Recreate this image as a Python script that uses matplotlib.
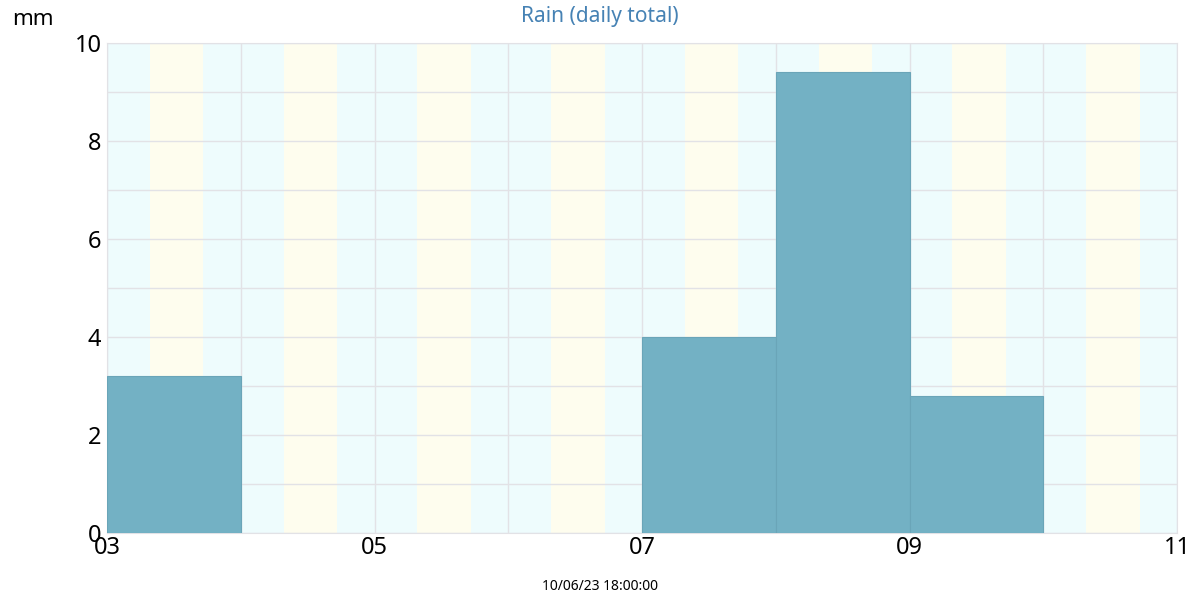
import matplotlib
matplotlib.use("Agg")
import matplotlib.pyplot as plt

plt.rcParams['font.family'] = ['Noto Sans', 'DejaVu Sans']

# daily rain totals (day of month -> mm)
days = [3, 7, 8, 9]
rain = [3.2, 4.0, 9.4, 2.8]
# daylight bands (fraction of day)
sunrise, sunset = 0.32, 0.72
xticks = [3, 5, 7, 9, 11]
xticklabels = ["03", "05", "07", "09", "11"]

fig = plt.figure(figsize=(12, 6), dpi=100)
ax = fig.add_axes([107/1200, 1 - 533/600, (1177-107)/1200, (533-43)/600])
ax.set_facecolor("#eefcfd")
for d in range(3, 11):
    ax.axvspan(d + sunrise, d + sunset, color="#fefdee", zorder=0, lw=0)

ax.bar(days, rain, width=1, align="edge", color="#73b1c4", edgecolor="#6aa5b8", lw=0.8, zorder=3)

ax.set_xlim(3, 11)
ax.set_ylim(0, 10)
ax.set_xticks(range(3, 12), minor=True)
ax.set_xticks(xticks, xticklabels)
ax.set_yticks(range(0, 11, 2))
ax.set_yticks(range(0, 11), minor=True)
ax.grid(True, which="both", color="#e2e2e6", lw=1, zorder=1)
ax.set_axisbelow(True)
for s in ax.spines.values():
    s.set_color("#e2e2e6")
ax.tick_params(which="both", length=0, labelsize=17, colors="black")
ax.tick_params(axis="x", pad=2)
ax.tick_params(axis="y", pad=4)

fig.text(0.01, 0.968, "mm", fontsize=16, va="center")
fig.text(0.5, 0.972, "Rain (daily total)", fontsize=15, fontweight="bold",
         color="#4682b4", ha="center", va="center")
fig.text(0.5, 0.01, "10/06/23 18:00:00", fontsize=10, fontweight="bold", ha="center", va="bottom")

fig.savefig("out.png", dpi=100)
